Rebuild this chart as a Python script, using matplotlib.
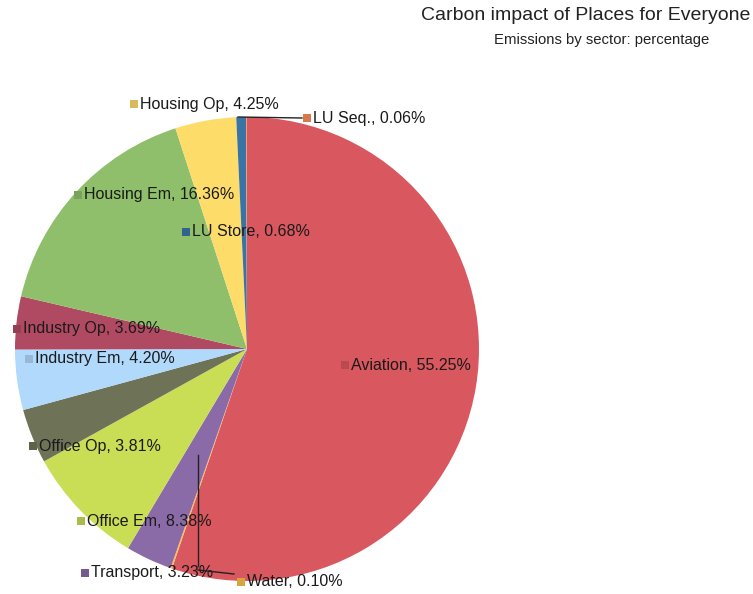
import matplotlib.pyplot as plt
from matplotlib.colors import to_rgb

plt.rcParams['font.family'] = ['Liberation Sans', 'DejaVu Sans']

# data, clockwise from 12 o'clock
sectors = ['Aviation', 'Water', 'Transport', 'Office Em', 'Office Op', 'Industry Em',
           'Industry Op', 'Housing Em', 'Housing Op', 'LU Store', 'LU Seq.']
shares = [55.25, 0.10, 3.23, 8.38, 3.81, 4.20, 3.69, 16.36, 4.25, 0.68, 0.06]
colors = ['#d9575e', '#ffbf4f', '#8b6aa8', '#c9dd55', '#6e7358', '#b0d9fb',
          '#b04a62', '#8fbf6a', '#fedc6a', '#3a74a6', '#ff8c5c']

# label anchor (pixel position of the little square, measured from top)
label_pos = {
    'Aviation': (342, 365), 'Water': (238, 582), 'Transport': (82, 573),
    'Office Em': (78, 521), 'Office Op': (30, 446), 'Industry Em': (26, 359),
    'Industry Op': (14, 329), 'Housing Em': (75, 195), 'Housing Op': (131, 104),
    'LU Store': (183, 232), 'LU Seq.': (304, 118),
}

W, H = 753, 594
fig = plt.figure(figsize=(7.53, 5.94), dpi=100)
ax = fig.add_axes([0, 0, 1, 1])

ax.pie(shares, colors=colors, startangle=90, counterclock=False,
       center=(247, H - 349), radius=232, frame=True,
       wedgeprops=dict(linewidth=0))
ax.set_xlim(0, W)
ax.set_ylim(0, H)
ax.set_aspect('auto')
ax.axis('off')

# leader lines
ax.plot([238, 302], [H - 117, H - 118], color='#222222', lw=1)
ax.plot([198, 198], [H - 455, H - 566], color='#222222', lw=1)
ax.plot([198, 234], [H - 570, H - 574], color='#222222', lw=1)

for name, val, col in zip(sectors, shares, colors):
    x, y = label_pos[name]
    dark = tuple(c * 0.85 for c in to_rgb(col))
    ax.plot(x + 3.5, H - y, marker='s', markersize=5.2, color=dark, markeredgewidth=0)
    ax.text(x + 9, H - y, f'{name}, {val:.2f}%', fontsize=11.5, color='#1a1a1a',
            va='center', ha='left')

fig.text(586 / W, 1 - 16 / H, 'Carbon impact of Places for Everyone',
         fontsize=14, ha='center', va='center', color='#222222')
fig.text(602 / W, 1 - 40 / H, 'Emissions by sector: percentage',
         fontsize=10.7, ha='center', va='center', color='#222222')

fig.savefig('out.png', dpi=100)
